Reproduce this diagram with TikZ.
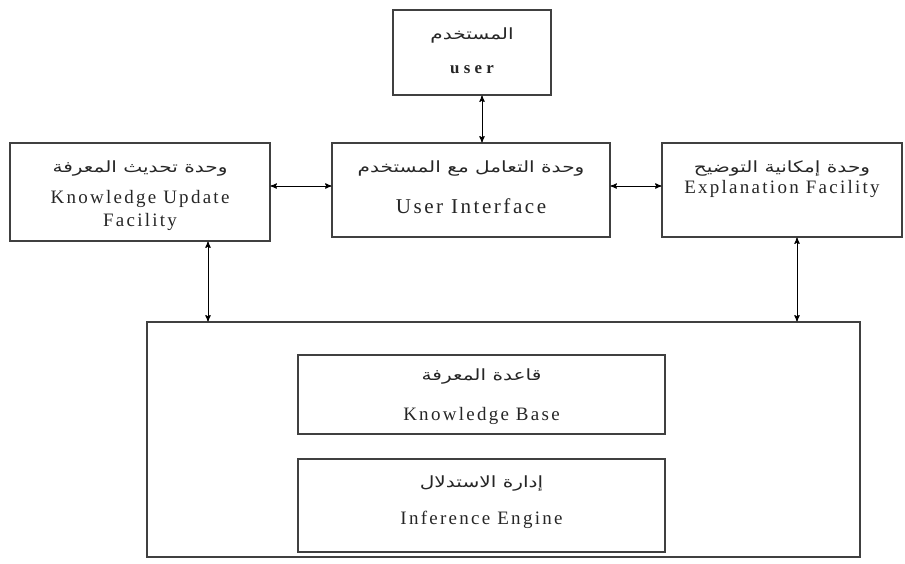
\documentclass[tikz,border=0pt]{standalone}
\usepackage{fontspec}
\setmainfont{Liberation Serif}
\newfontfamily\arabicfont[Script=Arabic, FakeStretch=1.3]{DejaVu Sans}
\TeXXeTstate=1
\usetikzlibrary{positioning}
\usetikzlibrary{arrows}
\tikzset{>=stealth'}
\tikzset{blk/.style={draw=black!75, line width=0.8pt, rectangle, inner sep=0pt}}
\tikzset{ar/.style={font=\arabicfont\fontsize{11}{12}\selectfont, inner sep=0pt, text=black!85}}
\tikzset{en/.style={font=\fontsize{13.5}{16}\selectfont\addfontfeatures{LetterSpace=12}, align=center, inner sep=0pt, text=black!85}}
\tikzset{lnk/.style={<->, line width=0.7pt}}

\begin{document}
\begin{tikzpicture}[on grid]
    \useasboundingbox (0,0) rectangle (22.625,-14.075);

    % boxes
    \node[blk, minimum width=3.95cm, minimum height=2.125cm] (user) at (11.8,-1.3125) {};
    \node[blk, minimum width=6.5cm, minimum height=2.45cm] (ku) at (3.5,-4.8) {};
    \node[blk, minimum width=6.95cm, minimum height=2.35cm] (ui) at (11.775,-4.75) {};
    \node[blk, minimum width=6cm, minimum height=2.35cm] (ef) at (19.55,-4.75) {};
    \node[blk, minimum width=17.825cm, minimum height=5.875cm] (sys) at (12.5875,-10.9875) {};
    \node[blk, minimum width=9.175cm, minimum height=1.975cm] (kb) at (12.0375,-9.8625) {};
    \node[blk, minimum width=9.175cm, minimum height=2.325cm] (ie) at (12.0375,-12.6375) {};

    % texts
    \node[ar, below=0.45cm of user.north] (userAr) {\beginR المستخدم\endR};
    \node[en, below=1.4cm of user.north, font=\bfseries\fontsize{12}{13}\selectfont\addfontfeatures{LetterSpace=25}] (userEn) {user};

    \node[ar, below=0.45cm of ku.north] (kuAr) {\beginR وحدة تحديث المعرفة\endR};
    \node[en, below=1.2cm of ku.north] (kuEn) {Knowledge Update\\Facility};

    \node[ar, below=0.45cm of ui.north] (uiAr) {\beginR وحدة التعامل مع المستخدم\endR};
    \node[en, below=1.4cm of ui.north, font=\fontsize{15}{16}\selectfont\addfontfeatures{LetterSpace=12}] (uiEn) {User Interface};

    \node[ar, below=0.45cm of ef.north] (efAr) {\beginR وحدة إمكانية التوضيح\endR};
    \node[en, below=0.95cm of ef.north] (efEn) {Explanation Facility};

    \node[ar, below=0.35cm of kb.north] (kbAr) {\beginR قاعدة المعرفة\endR};
    \node[en, below=1.32cm of kb.north] (kbEn) {Knowledge Base};

    \node[ar, below=0.42cm of ie.north] (ieAr) {\beginR إدارة الاستدلال\endR};
    \node[en, below=1.3cm of ie.north] (ieEn) {Inference Engine};

    % links
    \draw[lnk] ([xshift=0.25cm]user.south) -- ([xshift=0.25cm]user.south |- ui.north);
    \draw[lnk] ([yshift=0.1cm]ui.west -| ku.east) -- ([yshift=0.1cm]ui.west);
    \draw[lnk] ([yshift=0.1cm]ui.east) -- ([yshift=0.1cm]ui.east -| ef.west);
    \draw[lnk] ([xshift=1.7cm]ku.south) -- ([xshift=1.7cm]ku.south |- sys.north);
    \draw[lnk] ([xshift=0.375cm]ef.south) -- ([xshift=0.375cm]ef.south |- sys.north);
\end{tikzpicture}
\end{document}
